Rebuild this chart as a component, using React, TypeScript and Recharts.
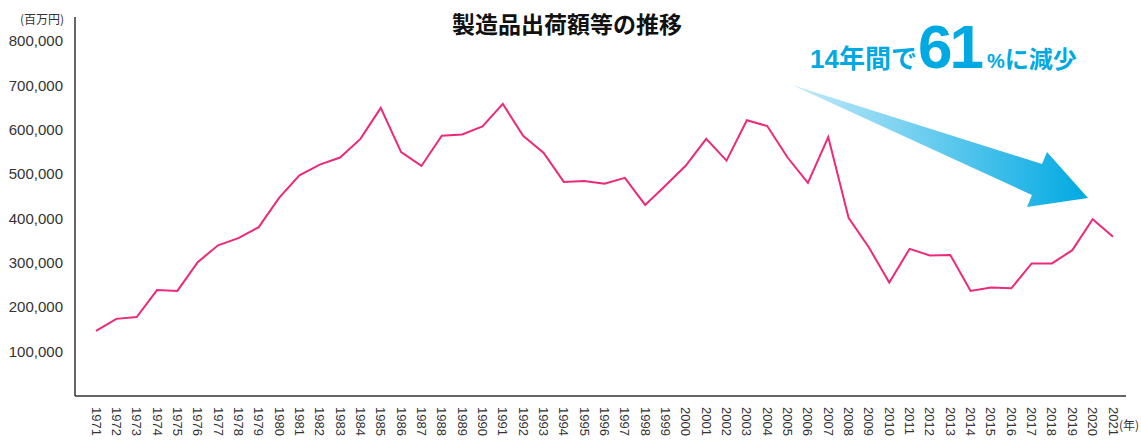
import React from "react";
import { LineChart, Line, XAxis, YAxis } from "recharts";

const years: string[] = [
  "1971","1972","1973","1974","1975","1976","1977","1978","1979","1980",
  "1981","1982","1983","1984","1985","1986","1987","1988","1989","1990",
  "1991","1992","1993","1994","1995","1996","1997","1998","1999","2000",
  "2001","2002","2003","2004","2005","2006","2007","2008","2009","2010",
  "2011","2012","2013","2014","2015","2016","2017","2018","2019","2020","2021",
];

const shipments: number[] = [
  147000, 174000, 178000, 239000, 237000, 302000, 340000, 356000, 381000, 447000,
  498000, 522000, 538000, 580000, 650000, 550000, 519000, 587000, 590000, 608000,
  659000, 587000, 549000, 483000, 485000, 479000, 492000, 431000, 475000, 520000,
  580000, 531000, 622000, 609000, 538000, 481000, 584000, 402000, 335000, 256000,
  332000, 317000, 318000, 237000, 245000, 243000, 299000, 299000, 329000, 399000, 359000,
];

const yTicks: number[] = [100000, 200000, 300000, 400000, 500000, 600000, 700000, 800000];

const title = "製造品出荷額等の推移";
const unitY = "(百万円)";
const unitX = "(年)";

const data = years.map((y, i) => ({ year: y, value: shipments[i] }));

const FONT = '"Liberation Sans", "Noto Sans CJK JP", sans-serif';
const JP = '"Noto Sans CJK JP", "Liberation Sans", sans-serif';

const YTick = (props: any) => {
  const { y, payload } = props;
  return (
    <text x={63} y={y} dy={5} textAnchor="end" fontSize={15} fill="#333" fontFamily={FONT}>
      {payload.value.toLocaleString("en-US")}
    </text>
  );
};

const XTick = (props: any) => {
  const { x, payload } = props;
  return (
    <text
      transform={`translate(${x}, 407) rotate(90)`}
      textAnchor="start"
      dominantBaseline="central"
      fontSize={13}
      fill="#333"
      fontFamily={FONT}
    >
      {payload.value}
    </text>
  );
};

export default function App() {
  return (
    <div style={{ position: "fixed", left: 0, top: 0, width: 1141, height: 444, background: "#fff" }}>
      <LineChart
        width={1141}
        height={444}
        data={data}
        margin={{ top: 17, right: 15, bottom: 0, left: 0 }}
      >
        <XAxis
          dataKey="year"
          interval={0}
          height={48}
          padding={{ left: 21, right: 13 }}
          tickLine={false}
          axisLine={{ stroke: "#333", strokeWidth: 1.5 }}
          tick={<XTick />}
        />
        <YAxis
          width={75}
          domain={[0, 855000]}
          ticks={yTicks}
          tickLine={false}
          axisLine={{ stroke: "#333", strokeWidth: 1.5 }}
          tick={<YTick />}
        />
        <Line
          type="linear"
          dataKey="value"
          stroke="#ec2a7a"
          strokeWidth={2}
          dot={false}
          isAnimationActive={false}
        />
      </LineChart>
      <svg
        width={1141}
        height={444}
        style={{ position: "absolute", left: 0, top: 0, pointerEvents: "none" }}
      >
        <defs>
          <linearGradient id="arrowGrad" gradientUnits="userSpaceOnUse" x1={792} y1={0} x2={1088} y2={0}>
            <stop offset="0" stopColor="#c4ebfa" />
            <stop offset="1" stopColor="#00a9e2" />
          </linearGradient>
        </defs>
        <text x={64} y={24} textAnchor="end" fontSize={12} fill="#333" fontFamily={JP}>
          {unitY}
        </text>
        <text x={567} y={33} textAnchor="middle" fontSize={23} fontWeight="bold" fill="#111" fontFamily={JP}>
          {title}
        </text>
        <polygon
          points="792,85 1042,164 1047,152 1088,198 1027,207 1032,195"
          fill="url(#arrowGrad)"
        />
        <text y={68} fill="#00a9e2" fontWeight="bold" fontFamily={FONT}>
          <tspan x={810} fontSize={26}>14</tspan>
          <tspan fontSize={26} fontFamily={JP}>年間で</tspan>
          <tspan x={918} fontSize={62} letterSpacing={-3}>61</tspan>
          <tspan x={987} fontSize={20}>%</tspan>
          <tspan fontSize={24} fontFamily={JP}>に減少</tspan>
        </text>
        <text x={1119} y={430} fontSize={12} fill="#333" fontFamily={JP}>
          {unitX}
        </text>
      </svg>
    </div>
  );
}
